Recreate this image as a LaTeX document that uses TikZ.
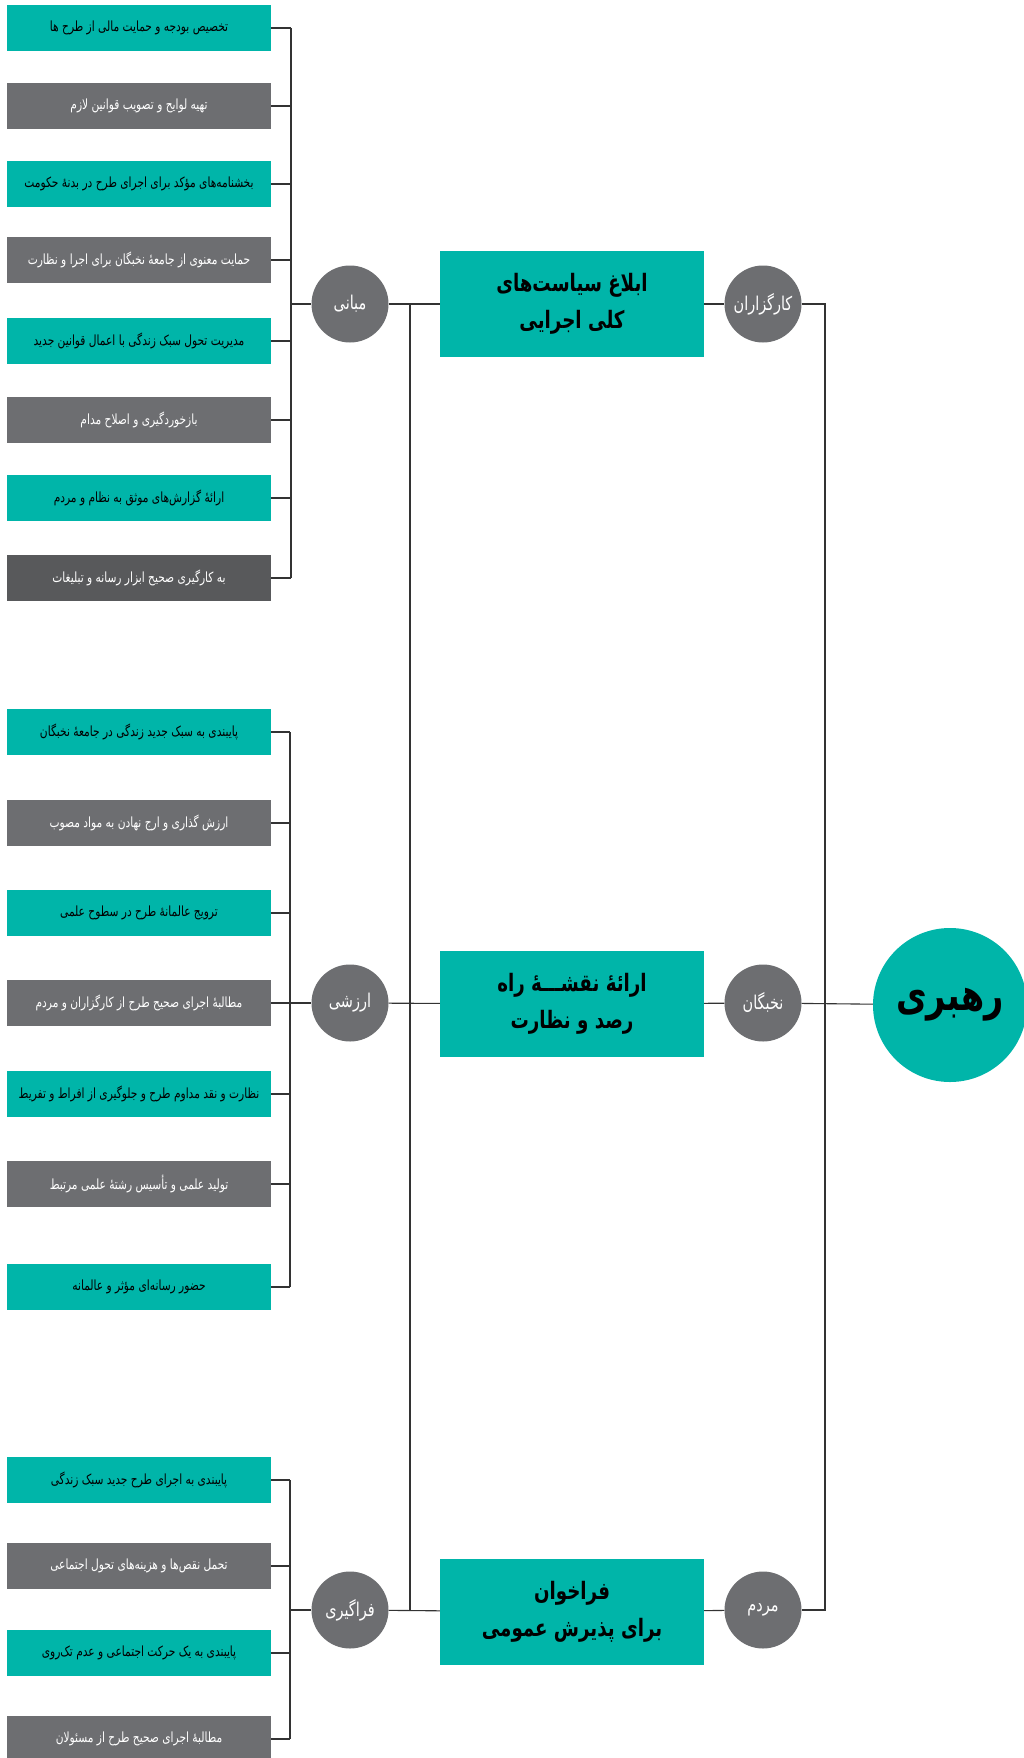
\documentclass[tikz,border=0pt]{standalone}
\usepackage{fontspec}
\newfontfamily\farsi[Script=Arabic, FakeStretch=0.76]{DejaVu Sans}
\TeXXeTstate=1
\usetikzlibrary{positioning}
\definecolor{RahTeal}{RGB}{0,181,169}
\definecolor{RahGray}{RGB}{109,110,113}
\definecolor{RahDark}{RGB}{88,89,91}
\newcommand{\fa}[1]{\beginR #1\endR}

\begin{document}
\begin{tikzpicture}[
    x=1pt, y=-1pt,
    item/.style={minimum width=264pt, minimum height=46pt, inner sep=0pt, font=\farsi\fontsize{14}{17}\selectfont},
    tealitem/.style={item, fill=RahTeal, text=black},
    grayitem/.style={item, fill=RahGray, text=white},
    hub/.style={circle, fill=RahGray, minimum size=77pt, inner sep=0pt, text=white, font=\farsi\fontsize{19}{22}\selectfont},
    goal/.style={fill=RahTeal, minimum width=264pt, minimum height=106pt, inner sep=0pt, align=center, font=\farsi\bfseries\fontsize{24}{37}\selectfont},
    link/.style={draw=black!80, line width=1.1pt}
]
    \useasboundingbox (0,0) rectangle (1023,1758);

    % mabani items
    \node[tealitem] (m1) at (139,28) {\fa{تخصیص بودجه و حمایت مالی از طرح ها}};
    \node[grayitem] (m2) at (139,106) {\fa{تهیه لوایح و تصویب قوانین لازم}};
    \node[tealitem] (m3) at (139,184) {\fa{بخشنامه‌های مؤکد برای اجرای طرح در بدنهٔ حکومت}};
    \node[grayitem] (m4) at (139,260) {\fa{حمایت معنوی از جامعهٔ نخبگان برای اجرا و نظارت}};
    \node[tealitem] (m5) at (139,341) {\fa{مدیریت تحول سبک زندگی با اعمال قوانین جدید}};
    \node[grayitem] (m6) at (139,420) {\fa{بازخوردگیری و اصلاح مدام}};
    \node[tealitem] (m7) at (139,498) {\fa{ارائهٔ گزارش‌های موثق به نظام و مردم}};
    \node[grayitem, fill=RahDark] (m8) at (139,578) {\fa{به کارگیری صحیح ابزار رسانه و تبلیغات}};

    % arzeshi items
    \node[tealitem] (a1) at (139,732) {\fa{پایبندی به سبک جدید زندگی در جامعهٔ نخبگان}};
    \node[grayitem] (a2) at (139,823) {\fa{ارزش گذاری و ارج نهادن به مواد مصوب}};
    \node[tealitem] (a3) at (139,913) {\fa{ترویج عالمانهٔ طرح در سطوح علمی}};
    \node[grayitem] (a4) at (139,1003) {\fa{مطالبهٔ اجرای صحیح طرح از کارگزاران و مردم}};
    \node[tealitem] (a5) at (139,1094) {\fa{نظارت و نقد مداوم طرح و جلوگیری از افراط و تفریط}};
    \node[grayitem] (a6) at (139,1184) {\fa{تولید علمی و تأسیس رشتهٔ علمی مرتبط}};
    \node[tealitem] (a7) at (139,1287) {\fa{حضور رسانه‌ای مؤثر و عالمانه}};

    % faragiri items
    \node[tealitem] (f1) at (139,1480) {\fa{پایبندی به اجرای طرح جدید سبک زندگی}};
    \node[grayitem] (f2) at (139,1566) {\fa{تحمل نقص‌ها و هزینه‌های تحول اجتماعی}};
    \node[tealitem] (f3) at (139,1653) {\fa{پایبندی به یک حرکت اجتماعی و عدم تک‌روی}};
    \node[grayitem] (f4) at (139,1739) {\fa{مطالبهٔ اجرای صحیح طرح از مسئولان}};

    % hubs and goals
    \node[hub] (mabani) at (350,304) {\fa{مبانی}};
    \node[hub] (arzeshi) at (350,1003) {\fa{ارزشی}};
    \node[hub] (faragiri) at (350,1610) {\fa{فراگیری}};
    \node[goal] (g1) at (572,304) {\fa{ابلاغ سیاست‌های}\\\fa{کلی اجرایی}};
    \node[goal] (g2) at (572,1004) {\fa{ارائهٔ نقشـــهٔ راه}\\\fa{رصد و نظارت}};
    \node[goal] (g3) at (572,1612) {\fa{فراخوان}\\\fa{برای پذیرش عمومی}};
    \node[hub] (kargozaran) at (763,304) {\fa{کارگزاران}};
    \node[hub] (nokhbegan) at (763,1003) {\fa{نخبگان}};
    \node[hub] (mardom) at (763,1610) {\fa{مردم}};
    \node[circle, fill=RahTeal, minimum size=154pt, inner sep=0pt, font=\farsi\bfseries\fontsize{44}{50}\selectfont] (rahbari) at (950,1005) {\fa{رهبری}};

    \coordinate (busM) at (291,0);
    \coordinate (busA) at (290,0);
    \coordinate (busF) at (290,0);
    \coordinate (spineL) at (410,0);
    \coordinate (spineR) at (825,0);

    % mabani ticks
    \draw[link] (m1.east) -- (m1.east -| busM);
    \draw[link] (m2.east) -- (m2.east -| busM);
    \draw[link] (m3.east) -- (m3.east -| busM);
    \draw[link] (m4.east) -- (m4.east -| busM);
    \draw[link] (m5.east) -- (m5.east -| busM);
    \draw[link] (m6.east) -- (m6.east -| busM);
    \draw[link] (m7.east) -- (m7.east -| busM);
    \draw[link] (m8.east) -- (m8.east -| busM);
    \draw[link] (m1.east -| busM) -- (m8.east -| busM);
    \draw[link] (mabani.west -| busM) -- (mabani.west);

    % arzeshi ticks
    \draw[link] (a1.east) -- (a1.east -| busA);
    \draw[link] (a2.east) -- (a2.east -| busA);
    \draw[link] (a3.east) -- (a3.east -| busA);
    \draw[link] (a4.east) -- (a4.east -| busA);
    \draw[link] (a5.east) -- (a5.east -| busA);
    \draw[link] (a6.east) -- (a6.east -| busA);
    \draw[link] (a7.east) -- (a7.east -| busA);
    \draw[link] (a1.east -| busA) -- (a7.east -| busA);
    \draw[link] (arzeshi.west -| busA) -- (arzeshi.west);

    % faragiri ticks
    \draw[link] (f1.east) -- (f1.east -| busF);
    \draw[link] (f2.east) -- (f2.east -| busF);
    \draw[link] (f3.east) -- (f3.east -| busF);
    \draw[link] (f4.east) -- (f4.east -| busF);
    \draw[link] (f1.east -| busF) -- (f4.east -| busF);
    \draw[link] (faragiri.west -| busF) -- (faragiri.west);

    % middle and right
    \draw[link] (mabani) -- (g1);
    \draw[link] (arzeshi) -- (g2);
    \draw[link] (faragiri) -- (g3);
    \draw[link] (mabani.east -| spineL) -- (faragiri.east -| spineL);
    \draw[link] (g1) -- (kargozaran);
    \draw[link] (g2) -- (nokhbegan);
    \draw[link] (g3) -- (mardom);
    \draw[link] (kargozaran.east) -- (kargozaran.east -| spineR) -- (mardom.east -| spineR) -- (mardom.east);
    \draw[link] (nokhbegan) -- (rahbari);
\end{tikzpicture}
\end{document}
